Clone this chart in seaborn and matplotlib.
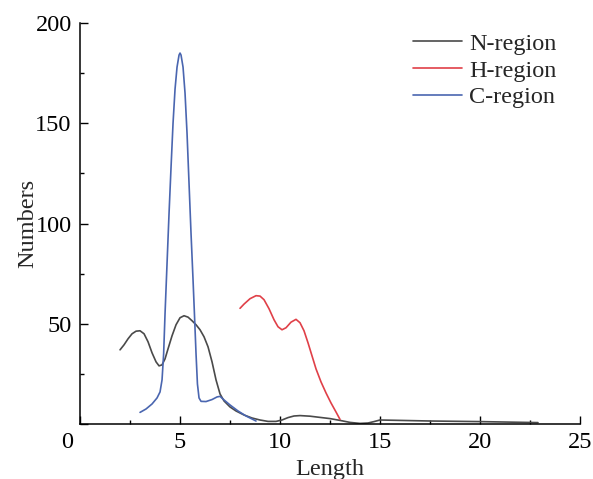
#Length distribution of signal peptide regions
import numpy as np
import pandas as pd
import matplotlib
matplotlib.use('Agg')
import matplotlib.pyplot as plt
import matplotlib.transforms as mtrans
import seaborn as sns

#Values
n_len=[2.0,2.2,2.4,2.6,2.8,3.0,3.2,3.4,3.6,3.8,3.95,4.1,4.25,4.4,4.6,4.8,5.0,5.2,5.4,5.6,5.8,6.0,6.2,6.4,6.6,6.8,7.0,7.2,7.5,7.8,8.2,8.6,9.0,9.4,9.8,10.1,10.4,10.7,11.0,11.5,12.0,12.5,13.0,13.5,14.0,14.4,14.7,15.0,15.5,17.5,20.0,22.9]
n_num=[37,39.5,42.5,45,46.3,46.5,45,41,35.5,31,29,29.5,32.5,37.5,44,49.5,53,54,53.3,51.5,49.5,47,43.5,38.5,31,22,15,11.5,8.5,6.5,4.5,3,2,1.3,1.3,2,3.2,4,4.2,3.9,3.3,2.7,1.8,0.8,0.3,0.5,1.2,2,1.9,1.5,1.2,0.7]

h_len=[8.0,8.2,8.5,8.8,9.0,9.2,9.45,9.7,9.9,10.1,10.3,10.55,10.8,11.0,11.2,11.4,11.6,11.8,12.05,12.3,12.55,12.8,13.0]
h_num=[57.7,59.8,62.5,64,63.8,62,57.5,52,48.5,47,48,50.8,52.2,50.5,46.5,40.5,34,27.5,21,15.5,10.5,6,2.3]

c_len=[3.0,3.3,3.6,3.85,4.0,4.1,4.18,4.25,4.35,4.45,4.55,4.65,4.75,4.85,4.95,5.0,5.05,5.15,5.25,5.35,5.45,5.55,5.65,5.72,5.8,5.87,5.95,6.05,6.3,6.6,6.85,7.0,7.2,7.5,7.9,8.3,8.8]
c_num=[5.8,7.5,10,13,16,22,35,55,80,105,128,150,167,178,184,185,184,178,165,145,120,95,72,55,35,20,13,11.3,11.2,12.2,13.5,13.8,12,9.5,6.5,4,1.5]

regions=['N-region','H-region','C-region']
colors=['#4a4a4a','#e04048','#4a66b0']

df=pd.concat([
    pd.DataFrame({'Length':n_len,'Numbers':n_num,'Region':'N-region'}),
    pd.DataFrame({'Length':h_len,'Numbers':h_num,'Region':'H-region'}),
    pd.DataFrame({'Length':c_len,'Numbers':c_num,'Region':'C-region'}),
],ignore_index=True)

sns.set_style('ticks')
plt.rcParams['font.family']=['Liberation Serif','DejaVu Serif']
fs=17.5

fig=plt.figure(figsize=(5.93,4.79),dpi=100)
ax=fig.add_axes([0.135,0.1148,0.843,0.8372])
sns.lineplot(data=df,x='Length',y='Numbers',hue='Region',hue_order=regions,
             palette=colors,estimator=None,sort=False,linewidth=1.2,ax=ax)

ax.set_xlim(0,25)
ax.set_ylim(0,200)
ax.set_xticks(np.arange(0,26,5))
ax.set_xticks(np.arange(2.5,25,5),minor=True)
ax.set_yticks(np.arange(0,201,50))
ax.set_yticklabels(['']+[str(v) for v in range(50,201,50)])
ax.set_yticks(np.arange(25,200,50),minor=True)
ax.tick_params(which='major',direction='in',length=6,width=1,colors='black',labelsize=fs,pad=6)
ax.tick_params(which='minor',direction='in',length=3,width=1,colors='black')
sns.despine(ax=ax)
for s in ['left','bottom']:
    ax.spines[s].set_linewidth(1.1)
    ax.spines[s].set_color('black')

#shift the "0" label left like the original
lab0=ax.get_xticklabels()[0]
lab0.set_transform(lab0.get_transform()+mtrans.ScaledTranslation(-13/100,0,fig.dpi_scale_trans))

ax.set_xlabel('Length',fontsize=fs,labelpad=4)
ax.set_ylabel('Numbers',fontsize=fs,labelpad=-2)

ax.legend(frameon=False,loc='upper right',bbox_to_anchor=(0.972,1.0),fontsize=fs,
          handlelength=2.0,handletextpad=0.3,labelspacing=0.2,borderaxespad=0)

fig.savefig('out.png',dpi=100)
